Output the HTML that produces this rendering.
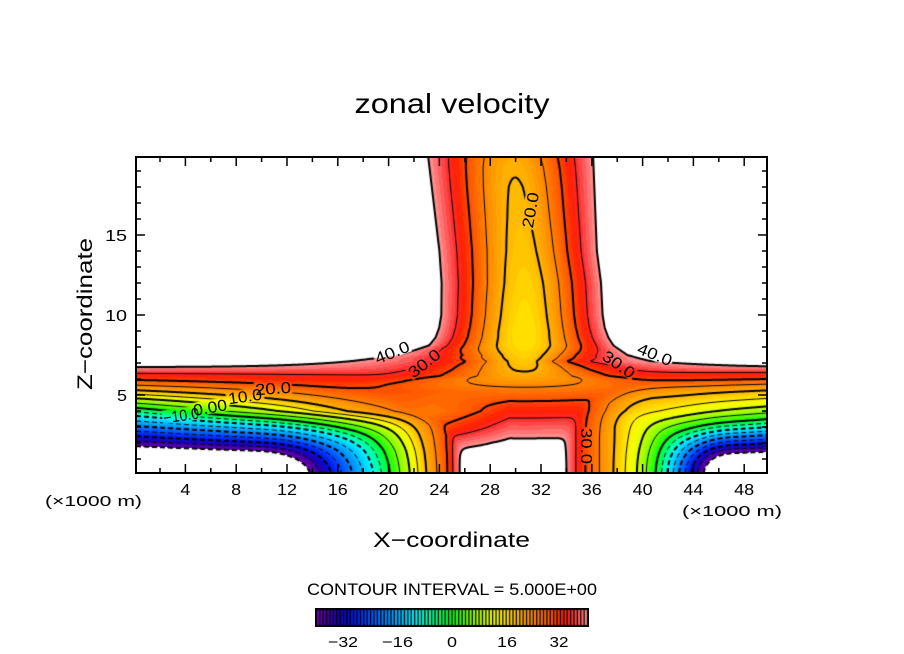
<!DOCTYPE html>
<html><head><meta charset="utf-8">
<style>
html,body{margin:0;padding:0;background:#fff;}
#wrap{position:relative;width:904px;height:654px;overflow:hidden;background:#fff;}
#cv{position:absolute;left:136px;top:157px;}
#cb{position:absolute;left:315px;top:608px;}
#sv{position:absolute;left:0;top:0;}
text{font-family:"Liberation Sans","DejaVu Sans",sans-serif;fill:#000;}
</style></head><body>
<div id="wrap">
<canvas id="cv" width="631" height="316"></canvas>
<canvas id="cb" width="274" height="19"></canvas>
<svg id="sv" width="904" height="654" viewBox="0 0 904 654">
<text x="452" y="113" font-size="28" text-anchor="middle" textLength="195" lengthAdjust="spacingAndGlyphs">zonal velocity</text>
<rect x="136" y="157" width="631" height="316" fill="none" stroke="#000" stroke-width="2"/>
<g id="ticks" stroke="#000" stroke-width="1.5"></g>
<g font-size="16" text-anchor="middle">
<text x="185.4" y="495" textLength="10" lengthAdjust="spacingAndGlyphs">4</text>
<text x="236.2" y="495" textLength="10" lengthAdjust="spacingAndGlyphs">8</text>
<text x="287" y="495" textLength="20" lengthAdjust="spacingAndGlyphs">12</text>
<text x="337.8" y="495" textLength="20" lengthAdjust="spacingAndGlyphs">16</text>
<text x="388.6" y="495" textLength="20" lengthAdjust="spacingAndGlyphs">20</text>
<text x="439.4" y="495" textLength="20" lengthAdjust="spacingAndGlyphs">24</text>
<text x="490.2" y="495" textLength="20" lengthAdjust="spacingAndGlyphs">28</text>
<text x="541" y="495" textLength="20" lengthAdjust="spacingAndGlyphs">32</text>
<text x="591.8" y="495" textLength="20" lengthAdjust="spacingAndGlyphs">36</text>
<text x="642.6" y="495" textLength="20" lengthAdjust="spacingAndGlyphs">40</text>
<text x="693.4" y="495" textLength="20" lengthAdjust="spacingAndGlyphs">44</text>
<text x="744.2" y="495" textLength="20" lengthAdjust="spacingAndGlyphs">48</text>
</g>
<g font-size="16" text-anchor="end">
<text x="127" y="401" textLength="10" lengthAdjust="spacingAndGlyphs">5</text>
<text x="127" y="321" textLength="22" lengthAdjust="spacingAndGlyphs">10</text>
<text x="127" y="241" textLength="22" lengthAdjust="spacingAndGlyphs">15</text>
</g>
<text x="45" y="506" font-size="15" textLength="97" lengthAdjust="spacingAndGlyphs">(×1000 m)</text>
<text x="682" y="516" font-size="15" textLength="100" lengthAdjust="spacingAndGlyphs">(×1000 m)</text>
<text x="451.5" y="547" font-size="21" text-anchor="middle" textLength="157" lengthAdjust="spacingAndGlyphs">X−coordinate</text>
<text transform="translate(92,314) rotate(-90)" font-size="21" text-anchor="middle" textLength="152" lengthAdjust="spacingAndGlyphs">Z−coordinate</text>
<text x="307" y="595" font-size="17" textLength="290" lengthAdjust="spacingAndGlyphs">CONTOUR INTERVAL = 5.000E+00</text>
<g font-size="15" text-anchor="middle">
<text x="343" y="647" textLength="30" lengthAdjust="spacingAndGlyphs">−32</text>
<text x="397.5" y="647" textLength="31" lengthAdjust="spacingAndGlyphs">−16</text>
<text x="452" y="647" textLength="10" lengthAdjust="spacingAndGlyphs">0</text>
<text x="507" y="647" textLength="20" lengthAdjust="spacingAndGlyphs">16</text>
<text x="559" y="647" textLength="19" lengthAdjust="spacingAndGlyphs">32</text>
</g>
<g font-size="16" text-anchor="middle">
<text transform="translate(181,415) rotate(-8)" y="6" textLength="36" lengthAdjust="spacingAndGlyphs">−10.0</text>
<text transform="translate(210,407) rotate(-10)" y="6" textLength="34" lengthAdjust="spacingAndGlyphs">0.00</text>
<text transform="translate(245,396) rotate(-8)" y="6" textLength="34" lengthAdjust="spacingAndGlyphs">10.0</text>
<text transform="translate(273,388) rotate(-4)" y="6" textLength="36" lengthAdjust="spacingAndGlyphs">20.0</text>
<text transform="translate(392,352) rotate(-22)" y="6" textLength="36" lengthAdjust="spacingAndGlyphs">40.0</text>
<text transform="translate(424,363) rotate(-38)" y="6" textLength="36" lengthAdjust="spacingAndGlyphs">30.0</text>
<text transform="translate(530,210) rotate(-80)" y="6" textLength="36" lengthAdjust="spacingAndGlyphs">20.0</text>
<text transform="translate(655,354) rotate(22)" y="6" textLength="36" lengthAdjust="spacingAndGlyphs">40.0</text>
<text transform="translate(619,364) rotate(35)" y="6" textLength="36" lengthAdjust="spacingAndGlyphs">30.0</text>
<text transform="translate(587,446) rotate(90)" y="6" textLength="36" lengthAdjust="spacingAndGlyphs">30.0</text>
</g>
</svg>
</div>
<script>
(function(){
function clamp(v,a,b){return v<a?a:(v>b?b:v);}
function lerpT(t,v,ext){
  var n=t.length,a,b;
  if(v<=t[0][0]){ if(!ext) return t[0][1]; a=t[0];b=t[1]; return a[1]+(b[1]-a[1])*(v-a[0])/(b[0]-a[0]); }
  if(v>=t[n-1][0]){ if(!ext) return t[n-1][1]; a=t[n-2];b=t[n-1]; return b[1]+(b[1]-a[1])*(v-b[0])/(b[0]-a[0]); }
  var i=1; while(t[i][0]<v) i++;
  a=t[i-1];b=t[i]; return a[1]+(b[1]-a[1])*(v-a[0])/(b[0]-a[0]);
}
var FL=[[0,-75],[1.8,-40],[2.43,-30],[3.07,-20],[3.7,-10],[4.2,0],[4.8,10],[5.3,20],[5.94,30],[6.35,35],[6.75,40],[7.5,50],[12,100]];
var FLb=[[0,-75],[1.8,-40],[2.43,-30],[3.07,-20],[3.7,-10],[4.2,0],[4.8,10],[5.3,20],[5.94,30],[6.1,35],[6.3,40],[7,52],[12,100]];
var FR=[[0,-80],[1.45,-40],[1.98,-30],[2.5,-20],[3.0,-10],[3.5,0],[4.3,10],[5.3,20],[6.0,30],[6.4,35],[6.75,40],[7.5,50],[12,100]];
var FRb=[[0,-80],[1.45,-40],[1.98,-30],[2.5,-20],[3.0,-10],[3.5,0],[4.3,10],[5.3,20],[6.5,30],[6.9,35],[7.3,40],[8,50],[12,100]];
var C0=[[0,45.5],[1,43],[2,41],[2.4,39.6],[3,37.4],[4.3,31.8],[5,27.8],[5.8,23.2],[6.2,21],[6.6,19.5],[7.1,18.3],[7.5,17.5],[8.1,16.3],[9,16],[10,16.5],[12,17.5],[14,18.5],[16,19.2],[18,19.7],[19.2,20.3],[20,21.2]];
var XC=[[0,30.7],[12,30.7],[14,30.5],[20,29.8]];
var HWL=[[0,25],[5.8,25],[6.2,25],[6.6,20],[7.1,13.7],[7.5,9.8],[8.1,7.5],[8.6,7.0],[9.2,6.72],[10,6.55],[14,6.5],[20,6.7]];
var HWR=[[0,25],[5.8,25],[6.2,25],[6.6,18],[7.1,9.9],[7.5,8.1],[8.1,7.0],[8.6,6.6],[9.2,6.32],[10,6.15],[14,5.9],[20,6.3]];
var BB=[[0,1.5],[5,1.5],[5.8,0.6],[6.2,0.3],[6.6,0.3],[7.1,0.35],[7.5,0.6],[8.1,1.0],[20,1.0]];
function slope(z){return (0.03+0.04*clamp((z-1.5)/2.5,0,1))*clamp((6.5-z)/2.5,0,1);}
function uL(x,z){
  var ze=Math.max(0,z+slope(z)*x);
  var a=0.385*Math.max(0,x-9.22);
  var qa=Math.pow(Math.pow(ze,2.5)+Math.pow(a,2.5),0.4);
  var qb=Math.pow(Math.pow(ze,6)+Math.pow(a,6),1/6);
  var t=clamp((qa-3)/3.5,0,1);
  var q=qa*(1-t)+qb*t;
  var w=clamp((z-2.5)/2,0,1);
  return lerpT(FLb,q,1)*(1-w)+lerpT(FL,q,1)*w;
}
function uR(x,z){
  var xr=50-x;
  var ze=Math.max(0,z+slope(z)*xr);
  var a=0.542*Math.max(0,xr-2.52);
  var qa=Math.pow(Math.pow(ze,2.5)+Math.pow(a,2.5),0.4);
  var qb=Math.pow(Math.pow(ze,7)+Math.pow(a,7),1/7);
  var t=clamp((qa-2.5)/3.5,0,1);
  var q=qa*(1-t)+qb*t;
  var w=clamp((z-4.5)/1.5,0,1);
  return lerpT(FRb,q,1)*(1-w)+lerpT(FR,q,1)*w;
}
function uC(x,z){
  var c0=lerpT(C0,z,0);
  var w=clamp((5.2-z)/1.2,0,1)*clamp((z-1)/2,0,1);
  c0+=clamp(1.5*(x-29.5),-9,0)*w;
  var xc=lerpT(XC,z,0);
  var hw=x<xc?lerpT(HWL,z,0):lerpT(HWR,z,0);
  var s=Math.abs(x-xc)/hw;
  var b=lerpT(BB,z,0);
  var A=Math.max(40-c0,6);
  var g=(1+b*b)*s*s/(s*s+b*b);
  if(s>1) g+=0.5*(s-1)*(s-1);
  return c0+A*g;
}
function smin(a,b,k){var d=Math.abs(a-b);return Math.min(a,b)-k*Math.log(1+Math.exp(-d/k));}
function U(x,z){return smin(smin(uL(x,z),uR(x,z),1.2),uC(x,z),1.5);}

var CM=[[-40,[112,0,176]],[-37,[74,0,168]],[-34,[32,0,176]],[-30,[0,16,224]],[-26,[0,56,255]],[-22,[0,104,255]],[-18,[0,152,255]],[-14,[0,200,255]],[-11,[0,240,255]],[-8,[0,255,192]],[-4,[0,255,112]],[0,[0,255,16]],[4,[96,255,0]],[8,[176,255,0]],[12,[240,255,0]],[15,[255,238,0]],[17,[255,216,0]],[19,[255,192,0]],[22,[255,160,0]],[26,[255,120,0]],[30,[255,76,0]],[33,[255,32,0]],[35,[255,40,40]],[37,[255,80,80]],[40,[255,152,152]]];
function cmap(v){
  if(v<=CM[0][0]) return CM[0][1];
  for(var i=1;i<CM.length;i++){ if(v<=CM[i][0]){ var a=CM[i-1],b=CM[i],t=(v-a[0])/(b[0]-a[0]); return [Math.round(a[1][0]+(b[1][0]-a[1][0])*t),Math.round(a[1][1]+(b[1][1]-a[1][1])*t),Math.round(a[1][2]+(b[1][2]-a[1][2])*t)]; } }
  return CM[CM.length-1][1];
}
var PAL=[]; for(var v=-40;v<40;v++) PAL.push(cmap(v+0.5));

var W=631,H=316,NX=W+1,NY=H+1;
var G=new Float32Array(NX*NY);
for(var j=0;j<NY;j++){ var z=(475-157-j)/16; for(var i=0;i<NX;i++){ var x=(136+i-134.6)/12.7; G[j*NX+i]=U(x,z);} }

var cv=document.getElementById('cv'), ctx=cv.getContext('2d');
var img=ctx.createImageData(W,H), D=img.data;
for(var j=0;j<H;j++) for(var i=0;i<W;i++){
  var u=(G[j*NX+i]+G[j*NX+i+1]+G[(j+1)*NX+i]+G[(j+1)*NX+i+1])/4;
  var k=(j*W+i)*4, c;
  if(u>=40||u<-40) c=[255,255,255]; else c=PAL[Math.floor(u)+40];
  D[k]=c[0];D[k+1]=c[1];D[k+2]=c[2];D[k+3]=255;
}
ctx.putImageData(img,0,0);
var off=document.createElement('canvas'); off.width=W; off.height=H;
off.getContext('2d').putImageData(img,0,0);

function contour(L){
  var segs=[], pts=new Map(), vBase=NY*W;
  function hE(i,j){var id=j*W+i; if(!pts.has(id)){var a=G[j*NX+i],b=G[j*NX+i+1];pts.set(id,[i+(L-a)/(b-a),j]);} return id;}
  function vE(i,j){var id=vBase+j*NX+i; if(!pts.has(id)){var a=G[j*NX+i],b=G[(j+1)*NX+i];pts.set(id,[i,j+(L-a)/(b-a)]);} return id;}
  for(var j=0;j<H;j++) for(var i=0;i<W;i++){
    var a=G[j*NX+i],b=G[j*NX+i+1],c=G[(j+1)*NX+i+1],d=G[(j+1)*NX+i];
    var idx=(a>L?8:0)|(b>L?4:0)|(c>L?2:0)|(d>L?1:0);
    if(idx===0||idx===15) continue;
    switch(idx){
      case 1: case 14: segs.push([vE(i,j),hE(i,j+1)]); break;
      case 2: case 13: segs.push([hE(i,j+1),vE(i+1,j)]); break;
      case 3: case 12: segs.push([vE(i,j),vE(i+1,j)]); break;
      case 4: case 11: segs.push([hE(i,j),vE(i+1,j)]); break;
      case 6: case 9: segs.push([hE(i,j),hE(i,j+1)]); break;
      case 7: case 8: segs.push([vE(i,j),hE(i,j)]); break;
      case 5: case 10:
        var hi=(a+b+c+d)/4>L;
        if((idx===5)===hi){ segs.push([vE(i,j),hE(i,j)]); segs.push([hE(i,j+1),vE(i+1,j)]); }
        else { segs.push([hE(i,j),vE(i+1,j)]); segs.push([vE(i,j),hE(i,j+1)]); }
        break;
    }
  }
  var adj=new Map();
  for(var s=0;s<segs.length;s++){ for(var e=0;e<2;e++){ var key=segs[s][e]; var l=adj.get(key); if(!l){l=[];adj.set(key,l);} l.push(s);} }
  var used=new Uint8Array(segs.length), lines=[];
  for(var s0=0;s0<segs.length;s0++){
    if(used[s0]) continue; used[s0]=1;
    var chain=[segs[s0][0],segs[s0][1]];
    for(var dir=0;dir<2;dir++){
      while(true){
        var end=chain[chain.length-1], l2=adj.get(end), nk=-1;
        for(var q=0;q<l2.length;q++) if(!used[l2[q]]){nk=l2[q];break;}
        if(nk<0) break;
        used[nk]=1; var sg=segs[nk]; chain.push(sg[0]===end?sg[1]:sg[0]);
      }
      chain.reverse();
    }
    lines.push(chain.map(function(e){return pts.get(e);}));
  }
  return lines;
}
ctx.strokeStyle='#000'; ctx.lineJoin='round'; ctx.lineCap='butt';
for(var L=-40;L<=40;L+=5){
  var lines=contour(L);
  ctx.lineWidth=(L%10===0)?2:1;
  ctx.setLineDash(L<0?[5,3]:[]);
  for(var n=0;n<lines.length;n++){
    var p=lines[n]; if(p.length<2) continue;
    ctx.beginPath(); ctx.moveTo(p[0][0],p[0][1]);
    for(var m=1;m<p.length;m++) ctx.lineTo(p[m][0],p[m][1]);
    ctx.stroke();
  }
}
ctx.setLineDash([]);
var LB=[[181,415,-8],[210,407,-10],[245,396,-8],[273,388,-4],[392,352,-22],[424,363,-38],[530,210,-80],[655,354,22],[619,364,35],[587,446,90]];
for(var n=0;n<LB.length;n++){
  var lb=LB[n];
  ctx.save(); ctx.translate(lb[0]-136,lb[1]-157); ctx.rotate(lb[2]*Math.PI/180);
  ctx.beginPath(); ctx.rect(-19,-7,38,14);
  ctx.setTransform(1,0,0,1,0,0); ctx.clip(); ctx.drawImage(off,0,0); ctx.restore();
}

var cb=document.getElementById('cb'), cx=cb.getContext('2d');
cx.fillStyle='#000'; cx.fillRect(0,0,274,19);
for(var v=-40;v<40;v++){
  var c=PAL[v+40]; cx.fillStyle='rgb('+c[0]+','+c[1]+','+c[2]+')';
  cx.fillRect(452+v*3.39-315+0.6,2,2.1,15);
}

var tg=document.getElementById('ticks'), t='';
for(var xv=2;xv<=48;xv+=2){
  var px=134.6+12.7*xv, len=(xv%4===0)?9:5;
  t+='<line x1="'+px+'" y1="473" x2="'+px+'" y2="'+(473-len)+'"/>';
  t+='<line x1="'+px+'" y1="157" x2="'+px+'" y2="'+(157+len)+'"/>';
}
for(var zv=1;zv<=19;zv++){
  var py=475-16*zv, len2=(zv%5===0)?9:5;
  t+='<line x1="136" y1="'+py+'" x2="'+(136+len2)+'" y2="'+py+'"/>';
  t+='<line x1="767" y1="'+py+'" x2="'+(767-len2)+'" y2="'+py+'"/>';
}
tg.innerHTML=t;
})();
</script>
</body></html>
